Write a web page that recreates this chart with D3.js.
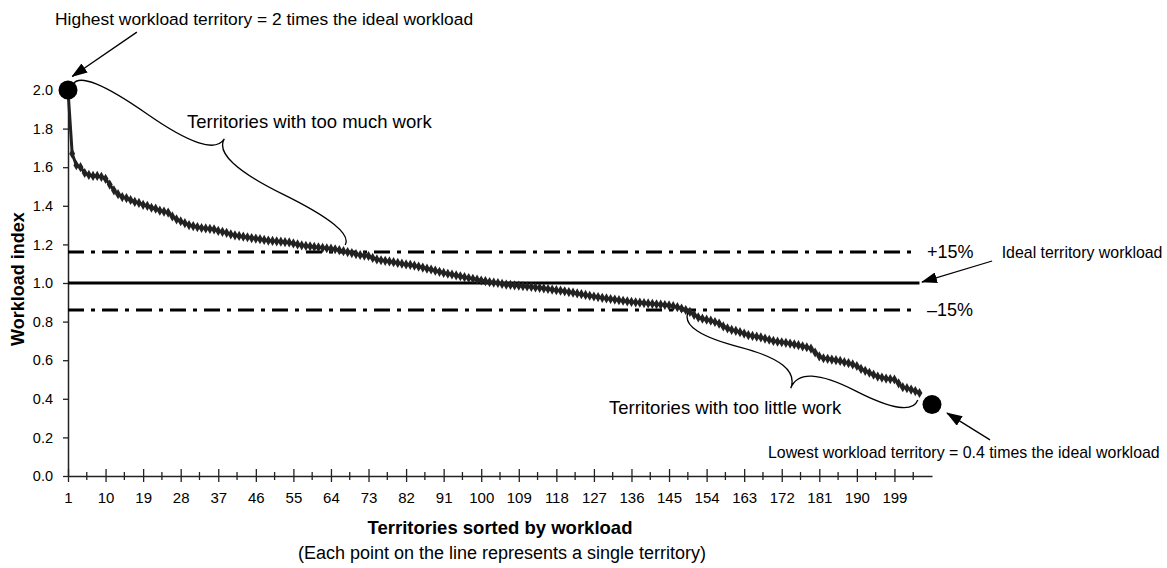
<!DOCTYPE html>
<html>
<head>
<meta charset="utf-8">
<script src="https://cdn.jsdelivr.net/npm/d3@7"></script>
<style>
  body { margin: 0; background: #fff; }
  text { font-family: "Liberation Sans", Arial, Helvetica, sans-serif; fill: #000; }
</style>
</head>
<body>
<div id="viz"></div>
<script>

// workload index for each territory, sorted high to low
var workload = [
  2.00, 1.67, 1.61, 1.60, 1.57, 1.56, 1.555, 1.555, 1.55, 1.54,
  1.51, 1.48, 1.46, 1.445, 1.44, 1.43, 1.42, 1.415, 1.405, 1.40,
  1.39, 1.385, 1.375, 1.37, 1.365, 1.345, 1.33, 1.32, 1.31, 1.30,
  1.295, 1.29, 1.285, 1.283, 1.28, 1.278, 1.27, 1.265, 1.26, 1.252,
  1.247, 1.244, 1.24, 1.237, 1.233, 1.23, 1.227, 1.223, 1.22, 1.218,
  1.216, 1.214, 1.212, 1.21, 1.205, 1.20, 1.195, 1.192, 1.19, 1.187,
  1.185, 1.182, 1.18, 1.178, 1.175, 1.17, 1.165, 1.16, 1.155, 1.15,
  1.145, 1.142, 1.14, 1.13, 1.122, 1.118, 1.115, 1.112, 1.108, 1.104,
  1.10, 1.096, 1.094, 1.09, 1.085, 1.08, 1.074, 1.07, 1.064, 1.058,
  1.052, 1.048, 1.044, 1.04, 1.035, 1.03, 1.026, 1.022, 1.018, 1.013,
  1.01, 1.005, 1.002, 1.00, 0.995, 0.992, 0.99, 0.988, 0.986, 0.984,
  0.982, 0.98, 0.977, 0.975, 0.972, 0.969, 0.966, 0.963, 0.96, 0.957,
  0.953, 0.95, 0.946, 0.942, 0.938, 0.934, 0.93, 0.927, 0.923, 0.92,
  0.917, 0.914, 0.911, 0.908, 0.905, 0.902, 0.90, 0.898, 0.896, 0.894,
  0.892, 0.89, 0.888, 0.886, 0.884, 0.88, 0.875, 0.868, 0.86, 0.85,
  0.835, 0.822, 0.815, 0.81, 0.805, 0.798, 0.79, 0.775, 0.765, 0.757,
  0.752, 0.745, 0.738, 0.73, 0.726, 0.722, 0.718, 0.712, 0.706, 0.70,
  0.696, 0.693, 0.69, 0.686, 0.682, 0.678, 0.672, 0.667, 0.66, 0.64,
  0.62, 0.61, 0.607, 0.603, 0.60, 0.596, 0.59, 0.585, 0.578, 0.57,
  0.555, 0.545, 0.535, 0.525, 0.515, 0.51, 0.505, 0.502, 0.50, 0.48,
  0.46, 0.455, 0.448, 0.44, 0.43
];

// highlighted highest / lowest territory
var extremes = [{ t: 1, v: 2.0 }, { t: 208, v: 0.37 }];

var yTicks = [0, 0.2, 0.4, 0.6, 0.8, 1.0, 1.2, 1.4, 1.6, 1.8, 2.0];
var xLabels = d3.range(1, 200, 9);          // 1, 10, 19 ... 199
var xMinor = d3.range(5.5, 205, 9);         // ticks between labels

var ideal = 1.0;
var bands = [{ v: 1.16, label: "+15%" }, { v: 0.86, label: "\u201315%" }];

var width = 1167, height = 568;

var svg = d3.select('#viz')
  .append('svg')
  .attr("width", width)
  .attr("height", height)

var x = d3.scaleLinear().domain([1, 208]).range([68, 932]);
var y = d3.scaleLinear().domain([0, 2]).range([476, 90]);

// arrow head
svg.append('defs').append('marker')
  .attr("id", "arrow")
  .attr("markerUnits", "userSpaceOnUse")
  .attr("markerWidth", 16)
  .attr("markerHeight", 11)
  .attr("refX", 15)
  .attr("refY", 5.5)
  .attr("orient", "auto")
  .append('path')
  .attr("d", "M0,0 L16,5.5 L0,11 z")
  .style('fill', '#000')

// y axis
var yAxis = svg.append('g')
  .attr("transform", "translate(" + x(1) + ",0)")
  .call(d3.axisLeft(y).tickValues(yTicks).tickFormat(d3.format('.1f')).tickSize(5).tickSizeOuter(0).tickPadding(10))
yAxis.select('.domain').style('stroke', '#222').style('stroke-width', 1.5)
yAxis.selectAll('.tick line').style('stroke', '#222').style('stroke-width', 1.3)
yAxis.selectAll('text').style('font-size', '14.5px').attr("fill", "#000")

// x axis
var xAxis = svg.append('g')
  .attr("transform", "translate(0," + y(0) + ")")
  .call(d3.axisBottom(x).tickValues(xLabels).tickSize(0).tickPadding(16).tickSizeOuter(0))
xAxis.select('.domain').style('stroke', '#222').style('stroke-width', 1.5)
xAxis.selectAll('text').style('font-size', '15px').attr("fill", "#000")
xAxis.selectAll('.tick line')
  .attr("y1", -7).attr("y2", 6)
  .style('stroke', '#222').style('stroke-width', 1.3)
xAxis.selectAll('line.minor')
  .data(xMinor)
  .enter()
  .append('line')
  .attr("class", "minor")
  .attr("x1", function (d) { return x(d); })
  .attr("x2", function (d) { return x(d); })
  .attr("y1", -4).attr("y2", 4)
  .style('stroke', '#222').style('stroke-width', 1.3)

// +/-15% bands and ideal line
var last = workload.length;

svg.selectAll('line.band')
  .data(bands)
  .enter()
  .append('line')
  .attr("class", "band")
  .attr("x1", x(1)).attr("x2", x(last - 1.5))
  .attr("y1", function (d) { return y(d.v); })
  .attr("y2", function (d) { return y(d.v); })
  .style('stroke', '#000')
  .style('stroke-width', 3)
  .style('stroke-dasharray', '16,7,4,7')

svg.selectAll('text.band')
  .data(bands)
  .enter()
  .append('text')
  .attr("class", "band")
  .attr("x", x(last + 1.8))
  .attr("y", function (d) { return y(d.v) + 6; })
  .style('font-size', '18px')
  .text(function (d) { return d.label; })

svg.append('line')
  .attr("x1", x(1)).attr("x2", x(last))
  .attr("y1", y(ideal)).attr("y2", y(ideal))
  .style('stroke', '#000')
  .style('stroke-width', 3)

// the territories
var line = d3.line()
  .x(function (d, i) { return x(i + 1); })
  .y(function (d) { return y(d); })

svg.append('path')
  .datum(workload)
  .attr("d", line)
  .style('fill', 'none')
  .style('stroke', '#222')
  .style('stroke-width', 3)

svg.append('g')
  .selectAll('path')
  .data(workload)
  .enter()
  .append('path')
  .attr("d", d3.symbol().type(d3.symbolDiamond).size(30))
  .attr("transform", function (d, i) { return "translate(" + x(i + 1) + "," + y(d) + ")"; })
  .style('fill', '#222')

svg.selectAll('circle.extreme')
  .data(extremes)
  .enter()
  .append('circle')
  .attr("class", "extreme")
  .attr("cx", function (d) { return x(d.t); })
  .attr("cy", function (d) { return y(d.v); })
  .attr('r', 9.5)
  .style('fill', '#000')

// curly brace between two points, w = depth of the brace
function brace(x1, y1, x2, y2, w, q) {
  var dx = x1 - x2, dy = y1 - y2;
  var len = Math.sqrt(dx * dx + dy * dy);
  dx = dx / len; dy = dy / len;
  var qx1 = x1 + q * w * dy, qy1 = y1 - q * w * dx;
  var qx2 = (x1 - .25 * len * dx) + (1 - q) * w * dy, qy2 = (y1 - .25 * len * dy) - (1 - q) * w * dx;
  var tx = (x1 - .5 * len * dx) + w * dy, ty = (y1 - .5 * len * dy) - w * dx;
  var qx3 = x2 + q * w * dy, qy3 = y2 - q * w * dx;
  var qx4 = (x1 - .75 * len * dx) + (1 - q) * w * dy, qy4 = (y1 - .75 * len * dy) - (1 - q) * w * dx;
  return "M" + x1 + "," + y1 + " Q" + qx1 + "," + qy1 + " " + qx2 + "," + qy2 + " T" + tx + "," + ty +
    " M" + x2 + "," + y2 + " Q" + qx3 + "," + qy3 + " " + qx4 + "," + qy4 + " T" + tx + "," + ty;
}

var braces = [
  { a: [67.4, 1.197], b: [2.2, 2.03], w: 30 },
  { a: [149.5, 0.845], b: [204.6, 0.394], w: 34 }
];

svg.selectAll('path.brace')
  .data(braces)
  .enter()
  .append('path')
  .attr("class", "brace")
  .attr("d", function (d) { return brace(x(d.a[0]), y(d.a[1]), x(d.b[0]), y(d.b[1]), d.w, 0.6); })
  .style('fill', 'none')
  .style('stroke', '#000')
  .style('stroke-width', 1.3)

// arrows pointing at things
var arrows = [
  { from: [17.5, 2.30], to: [2.0, 2.07] },
  { from: [222.4, 1.114], to: [205.6, 1.005] },
  { from: [221.9, 0.187], to: [211.6, 0.326] }
];

svg.selectAll('line.arrow')
  .data(arrows)
  .enter()
  .append('line')
  .attr("class", "arrow")
  .attr("x1", function (d) { return x(d.from[0]); })
  .attr("y1", function (d) { return y(d.from[1]); })
  .attr("x2", function (d) { return x(d.to[0]); })
  .attr("y2", function (d) { return y(d.to[1]); })
  .style('stroke', '#000')
  .style('stroke-width', 1.3)
  .attr("marker-end", "url(#arrow)")

// annotation text
var notes = [
  { text: "Highest workload territory = 2 times the ideal workload", t: -2.1, v: 2.336, size: 17.4 },
  { text: "Territories with too much work", t: 29.5, v: 1.803, size: 18.5 },
  { text: "Ideal territory workload", t: 224.7, v: 1.127, size: 15.9 },
  { text: "Territories with too little work", t: 130.6, v: 0.321, size: 18.5 },
  { text: "Lowest workload territory = 0.4 times the ideal workload", t: 168.7, v: 0.093, size: 15.9 }
];

svg.selectAll('text.note')
  .data(notes)
  .enter()
  .append('text')
  .attr("class", "note")
  .attr("x", function (d) { return x(d.t); })
  .attr("y", function (d) { return y(d.v); })
  .style('font-size', function (d) { return d.size + 'px'; })
  .text(function (d) { return d.text; })

// axis titles
svg.append('text')
  .text("Workload index")
  .attr("transform", "translate(24," + y(1.02) + ") rotate(-90)")
  .attr("text-anchor", "middle")
  .style('font-size', '18px')
  .style('font-weight', 'bold')

svg.append('text')
  .text("Territories sorted by workload")
  .attr("x", 500)
  .attr("y", 534)
  .attr("text-anchor", "middle")
  .style('font-size', '18.5px')
  .style('font-weight', 'bold')

svg.append('text')
  .text("(Each point on the line represents a single territory)")
  .attr("x", 502)
  .attr("y", 559)
  .attr("text-anchor", "middle")
  .style('font-size', '18px')

</script>
</body>
</html>
